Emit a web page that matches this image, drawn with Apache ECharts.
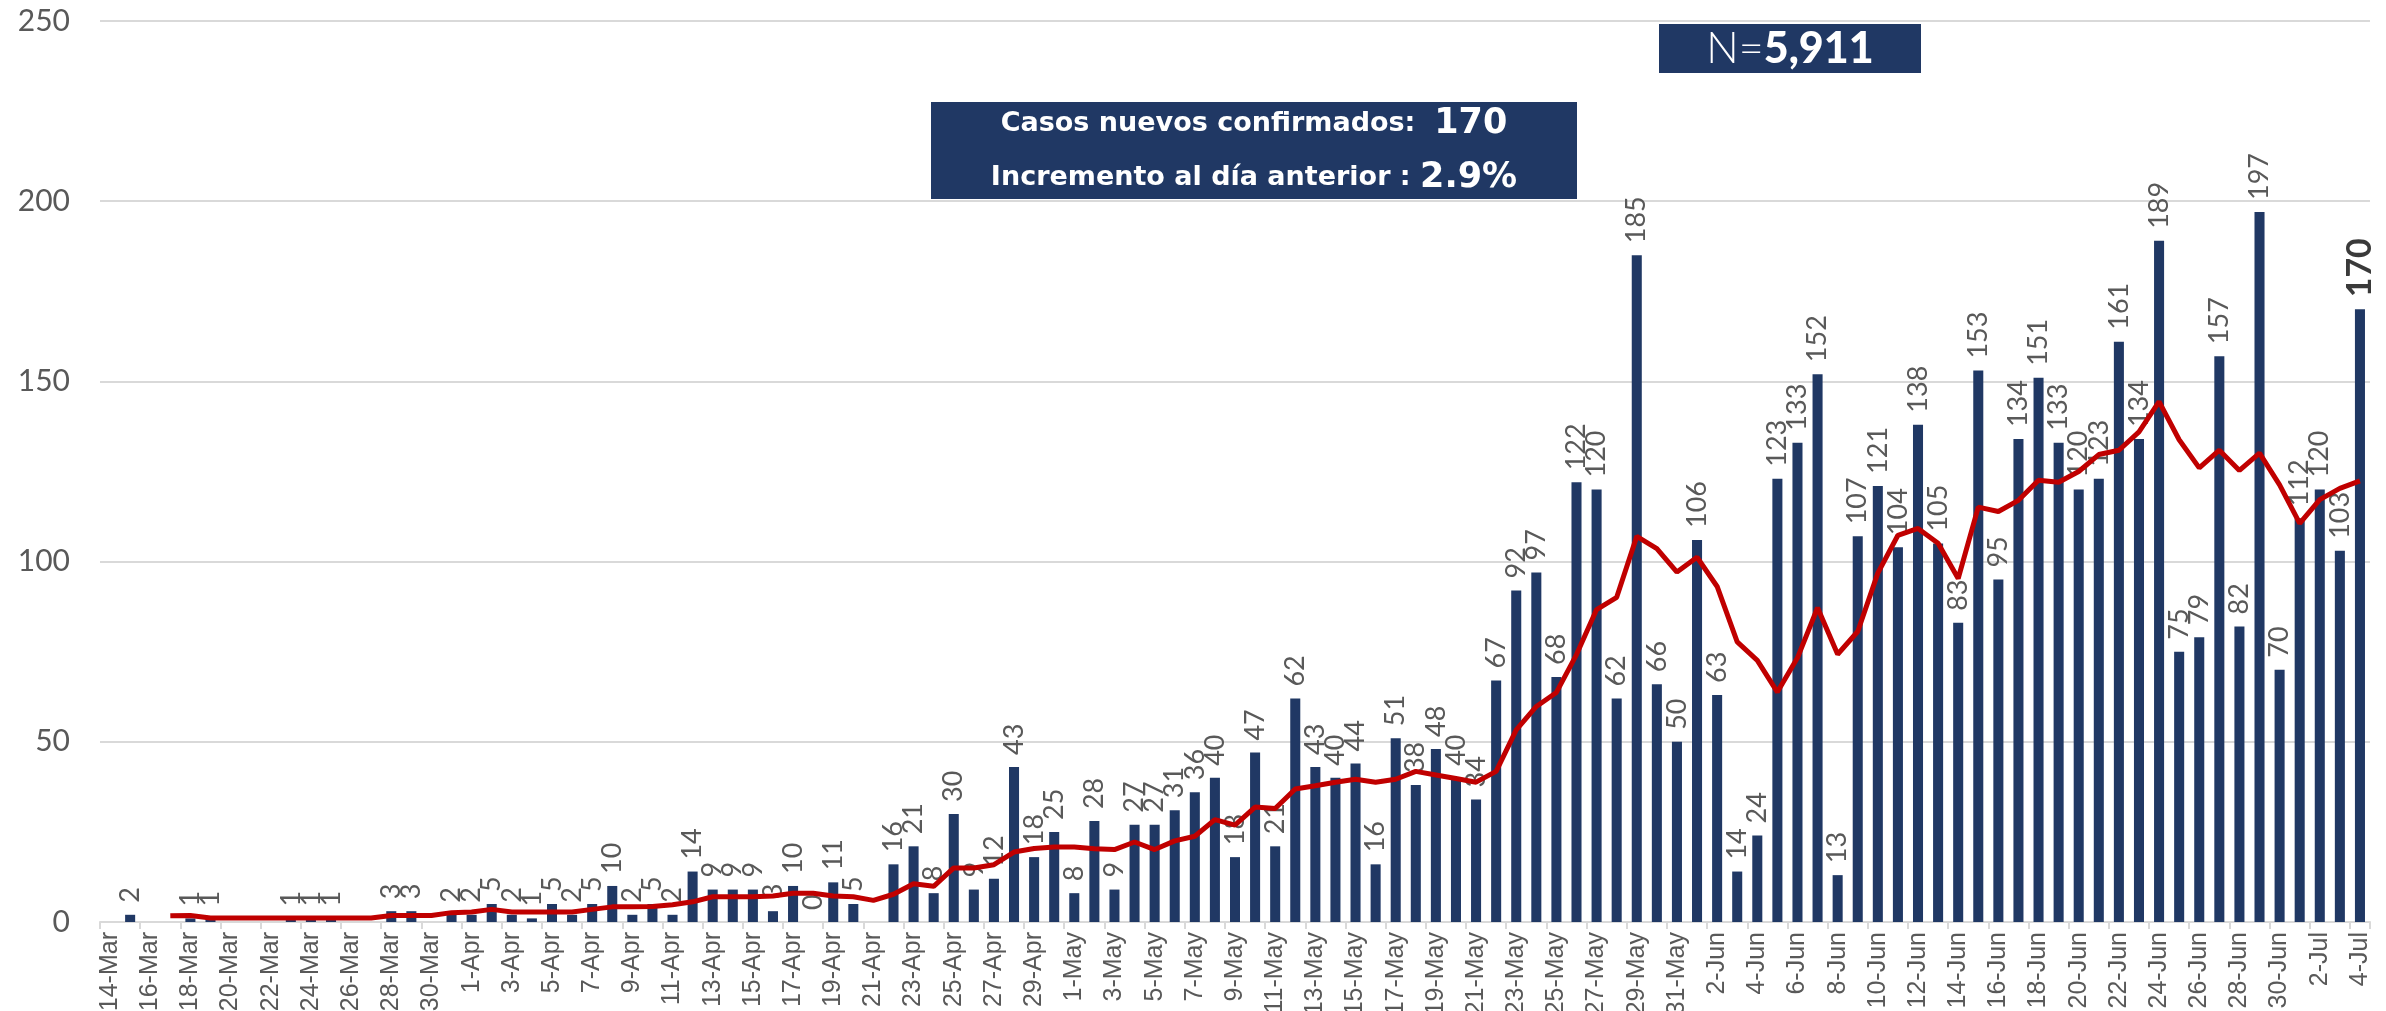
<!DOCTYPE html>
<html>
<head>
<meta charset="utf-8">
<script src="https://cdn.jsdelivr.net/npm/echarts@6/dist/echarts.min.js"></script>
<style>
  html, body { margin: 0; padding: 0; background: #fff; }
  #chart { width: 2386px; height: 1011px; }
</style>
</head>
<body>
<div id="chart"></div>
<script>
// dias 14-Mar .. 4-Jul
const days = [
  '14-Mar','15-Mar','16-Mar','17-Mar','18-Mar','19-Mar','20-Mar','21-Mar','22-Mar','23-Mar','24-Mar','25-Mar','26-Mar','27-Mar','28-Mar','29-Mar','30-Mar','31-Mar',
  '1-Apr','2-Apr','3-Apr','4-Apr','5-Apr','6-Apr','7-Apr','8-Apr','9-Apr','10-Apr','11-Apr','12-Apr','13-Apr','14-Apr','15-Apr','16-Apr','17-Apr','18-Apr','19-Apr','20-Apr',
  '21-Apr','22-Apr','23-Apr','24-Apr','25-Apr','26-Apr','27-Apr','28-Apr','29-Apr','30-Apr',
  '1-May','2-May','3-May','4-May','5-May','6-May','7-May','8-May','9-May','10-May','11-May','12-May','13-May','14-May','15-May','16-May','17-May','18-May','19-May','20-May',
  '21-May','22-May','23-May','24-May','25-May','26-May','27-May','28-May','29-May','30-May','31-May',
  '1-Jun','2-Jun','3-Jun','4-Jun','5-Jun','6-Jun','7-Jun','8-Jun','9-Jun','10-Jun','11-Jun','12-Jun','13-Jun','14-Jun','15-Jun','16-Jun','17-Jun','18-Jun','19-Jun','20-Jun',
  '21-Jun','22-Jun','23-Jun','24-Jun','25-Jun','26-Jun','27-Jun','28-Jun','29-Jun','30-Jun',
  '1-Jul','2-Jul','3-Jul','4-Jul'
];

// casos nuevos por dia (null = sin dato)
const casos = [
  null, 2, null, null, 1, 1, null, null, null, 1, 1, 1, null, null, 3, 3, null, 2,
  2, 5, 2, 1, 5, 2, 5, 10, 2, 5, 2, 14, 9, 9, 9, 3, 10, 0, 11, 5,
  null, 16, 21, 8, 30, 9, 12, 43, 18, 25,
  8, 28, 9, 27, 27, 31, 36, 40, 18, 47, 21, 62, 43, 40, 44, 16, 51, 38, 48, 40,
  34, 67, 92, 97, 68, 122, 120, 62, 185, 66, 50,
  106, 63, 14, 24, 123, 133, 152, 13, 107, 121, 104, 138, 105, 83, 153, 95, 134, 151, 133, 120,
  123, 161, 134, 189, 75, 79, 157, 82, 197, 70,
  112, 120, 103, 170
];

// promedio movil (linea roja)
const promedio = [
  null, null, null, 1.7, 1.8, 1.1, 1.1, 1.1, 1.1, 1.1, 1.1, 1.1, 1.1, 1.1, 1.8, 1.8, 1.8, 2.6,
  2.8, 3.5, 2.8, 2.8, 2.8, 2.8, 3.5, 4.2, 4.2, 4.3, 4.8, 5.6, 7.0, 7.0, 7.0, 7.2, 8.0, 8.0, 7.2, 7.0,
  6.0, 7.7, 10.6, 9.9, 15.0, 15.0, 15.9, 19.4, 20.4, 20.8,
  20.8, 20.3, 20.1, 22.2, 20.1, 22.5, 23.8, 28.4, 26.9, 31.9, 31.5, 36.9, 37.8, 38.8, 39.6, 38.8, 39.6, 41.8, 40.8, 39.8,
  38.8, 41.8, 53.3, 59.8, 63.7, 74.2, 86.7, 90.1, 107.0, 103.6, 97.1,
  101.2, 93.1, 77.7, 72.6, 63.8, 73.3, 87.2, 74.3, 80.6, 96.8, 107.3, 109.2, 105.1, 95.3, 115.1, 113.9, 117.0, 122.6, 122.0, 125.0,
  129.7, 130.9, 136.0, 144.4, 133.8, 126.0, 130.9, 125.3, 130.1, 121.3,
  110.6, 117.2, 120.3, 122.4
];

const totalN = '5,911';
const casosHoy = '170';
const incremento = '2.9%';

const azul = '#203864';
const gris = '#595959';

let chart = echarts.init(document.getElementById('chart'));

let barData = casos.map((v, i) => {
    if (i === casos.length - 1) {
        return { value: v, label: { fontWeight: 'bold', fontSize: 34, color: '#3a3a3a' } };
    }
    return v;
});

let option = {
    animation: false,
    grid: { left: 100, right: 16, top: 21, bottom: 89, outerBoundsMode: 'none', containLabel: false },
    xAxis: {
        type: 'category',
        data: days,
        boundaryGap: true,
        axisLine: { lineStyle: { color: '#d9d9d9', width: 2 } },
        axisTick: { show: true, interval: 1, length: 7, lineStyle: { color: '#d9d9d9', width: 2 } },
        axisLabel: {
            interval: 1,
            rotate: 90,
            margin: 10,
            color: gris,
            fontSize: 25,
            fontFamily: 'Liberation Sans'
        }
    },
    yAxis: {
        type: 'value',
        min: 0,
        max: 250,
        interval: 50,
        axisLine: { show: false },
        axisTick: { show: false },
        splitLine: { lineStyle: { color: '#d9d9d9', width: 2 } },
        axisLabel: { color: gris, fontSize: 30, fontFamily: 'Lato', margin: 30 }
    },
    series: [
        {
            name: 'Casos nuevos',
            type: 'bar',
            data: barData,
            barWidth: '50%',
            itemStyle: { color: azul },
            label: {
                show: true,
                position: 'top',
                rotate: 90,
                align: 'left',
                verticalAlign: 'middle',
                distance: 12,
                color: gris,
                fontSize: 27,
                fontFamily: 'Lato'
            }
        },
        {
            name: 'Promedio',
            type: 'line',
            data: promedio,
            symbol: 'none',
            lineStyle: { color: '#c00000', width: 5 },
            z: 5
        }
    ],
    graphic: [
        {
            type: 'rect',
            left: 931, top: 102,
            shape: { width: 646, height: 97 },
            style: { fill: azul },
            z: 10
        },
        {
            type: 'text',
            x: 1254, y: 151,
            z: 11,
            style: {
                text: '{a|Casos nuevos confirmados:  }{b|' + casosHoy + '}\n{a|Incremento al día anterior : }{b|' + incremento + '}',
                align: 'center',
                verticalAlign: 'middle',
                fill: '#fff',
                rich: {
                    a: { fontSize: 27, fontFamily: 'DejaVu Sans', fontWeight: 'bold', fill: '#fff', lineHeight: 54 },
                    b: { fontSize: 35, fontFamily: 'DejaVu Sans', fontWeight: 'bold', fill: '#fff', lineHeight: 54 }
                }
            }
        },
        {
            type: 'rect',
            left: 1659, top: 24,
            shape: { width: 262, height: 49 },
            style: { fill: azul },
            z: 10
        },
        {
            type: 'text',
            x: 1790, y: 49,
            z: 11,
            style: {
                text: '{a|N=}{b|' + totalN + '}',
                align: 'center',
                verticalAlign: 'middle',
                fill: '#fff',
                rich: {
                    a: { fontSize: 43, fontFamily: 'Lato', fontWeight: 300, fill: '#fff' },
                    b: { fontSize: 43, fontFamily: 'Lato', fontWeight: 900, fill: '#fff' }
                }
            }
        }
    ]
};

chart.setOption(option);
</script>
</body>
</html>
